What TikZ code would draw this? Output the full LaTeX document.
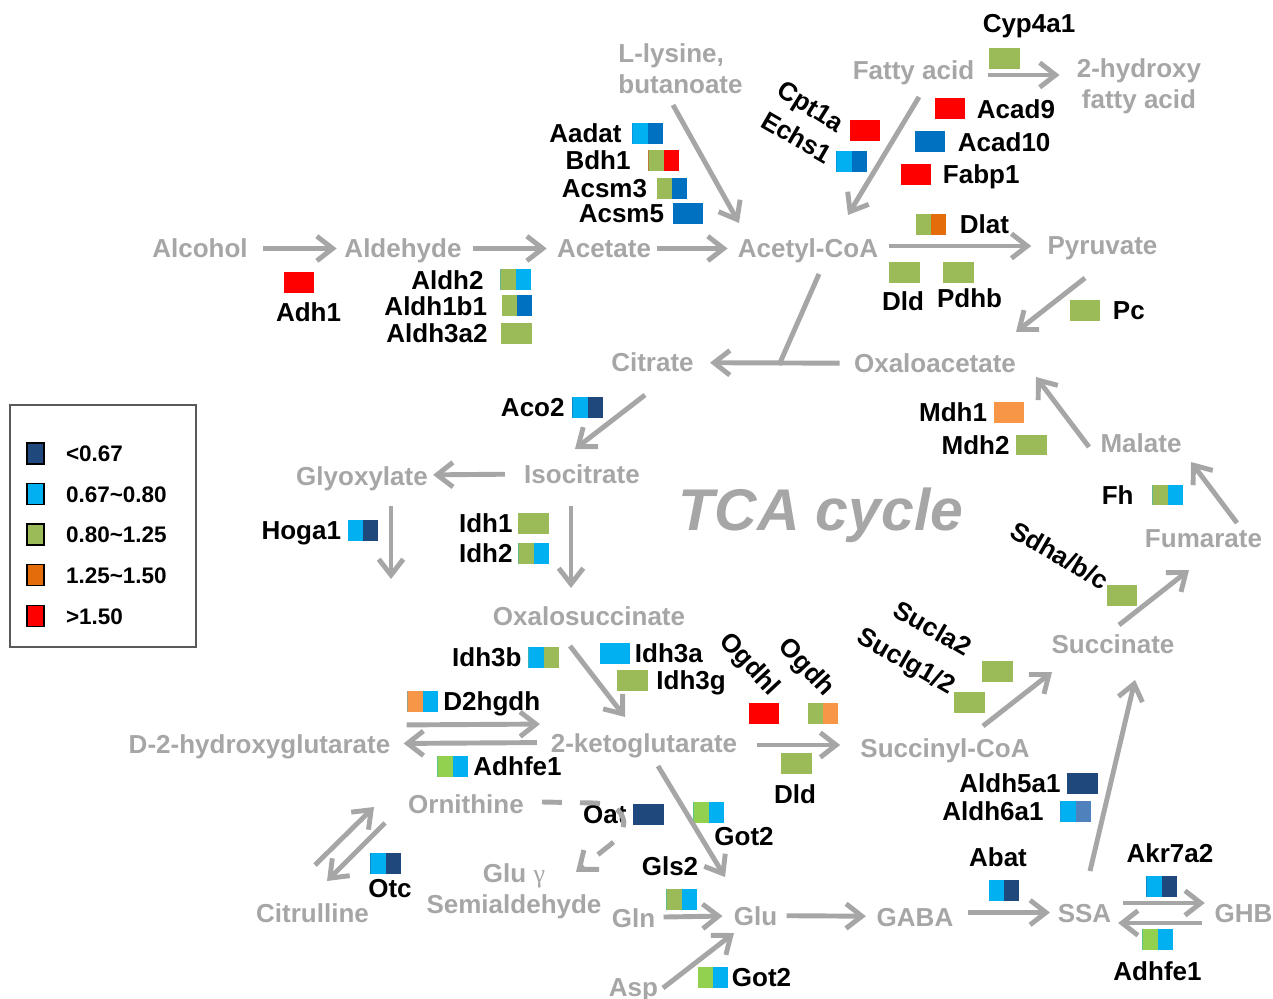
\documentclass[tikz,border=0pt]{standalone}
\usepackage{fontspec}
\setmainfont{Liberation Sans}
\newfontfamily\greekserif{Liberation Serif}
\usetikzlibrary{positioning,arrows.meta}

\definecolor{cgray}{HTML}{A6A6A6}
\definecolor{cnavy}{HTML}{1F497D}
\definecolor{clblue}{HTML}{00B0F0}
\definecolor{cmblue}{HTML}{0070C0}
\definecolor{csteel}{HTML}{4F81BD}
\definecolor{cgreen}{HTML}{9BBB59}
\definecolor{cbgreen}{HTML}{92D050}
\definecolor{corange}{HTML}{E46C0A}
\definecolor{clorange}{HTML}{F79646}
\definecolor{cred}{HTML}{FF0000}

\begin{document}
\begin{tikzpicture}[x = 0.02cm, y = -0.02cm,
    met/.style = { font = \bfseries\fontsize{14.8}{17.6}\selectfont, text = cgray, inner sep = 0pt, text height = 10.8pt, text depth = 0pt, anchor = base },
    met2/.style = { font = \bfseries\fontsize{14.8}{17.6}\selectfont, text = cgray, inner sep = 0pt },
    gene/.style = { font = \bfseries\fontsize{14.8}{17.6}\selectfont, inner sep = 0pt, text height = 10.8pt, text depth = 0pt },
    cell/.style 2 args = { minimum width = 0.61cm, minimum height = 0.42cm, inner sep = 0pt, fill = #2,
      path picture = { \fill[#1] (path picture bounding box.south west) rectangle (path picture bounding box.north); } },
    flow/.style = { draw = cgray, line width = 2.8pt, -{Straight Barb[length = 9pt, width = 14pt]} },
    key/.style = { draw = black, line width = 0.8pt, minimum width = 0.34cm, minimum height = 0.42cm, inner sep = 0pt, fill = #1 },
    keytext/.style = { font = \bfseries\fontsize{12.8}{15}\selectfont, inner sep = 0pt, text height = 9.3pt, text depth = 0pt }]

    \useasboundingbox (0,0) rectangle (1273,999);

    % metabolites
    \node[met] (alcohol) at (200,258) {Alcohol};
    \node[met] (aldehyde) at (403,258) {Aldehyde};
    \node[met] (acetate) at (604,258) {Acetate};
    \node[met] (acetylcoa) at (808,258) {Acetyl-CoA};
    \node[met2, align = left, anchor = north west] (lysine) at (618,43.3) {L-lysine,\\butanoate};
    \node[met] (fattyacid) at (913.5,80) {Fatty acid};
    \node[met2, align = center, anchor = north] (hydroxyfa) at (1139,58.3) {2-hydroxy\\fatty acid};
    \node[met] (pyruvate) at (1102.5,255) {Pyruvate};
    \node[met] (citrate) at (652.5,372) {Citrate};
    \node[met] (oxaloacetate) at (935,373) {Oxaloacetate};
    \node[met] (isocitrate) at (582,483) {Isocitrate};
    \node[met] (glyoxylate) at (362,485) {Glyoxylate};
    \node[met] (malate) at (1141,453) {Malate};
    \node[met] (fumarate) at (1203.5,547) {Fumarate};
    \node[met] (oxalosuccinate) at (589,625) {Oxalosuccinate};
    \node[met] (succinate) at (1113,653) {Succinate};
    \node[met] (dhg) at (259.5,753) {D-2-hydroxyglutarate};
    \node[met] (ketoglutarate) at (644,752) {2-ketoglutarate};
    \node[met] (succinylcoa) at (945,757) {Succinyl-CoA};
    \node[met] (ornithine) at (466,813) {Ornithine};
    \node[met] (citrulline) at (312.5,922) {Citrulline};
    \node[met2, align = center, anchor = north] (semialdehyde) at (514,863.3) {Glu {\greekserif\mdseries γ}\\Semialdehyde};
    \node[met] (gln) at (633.5,927) {Gln};
    \node[met] (glu) at (755.5,925) {Glu};
    \node[met] (gaba) at (915,926) {GABA};
    \node[met] (ssa) at (1084.5,922) {SSA};
    \node[met] (ghb) at (1243.5,922) {GHB};
    \node[met] (asp) at (633.5,996) {Asp};
    \node[font = \bfseries\itshape\fontsize{33.5}{36}\selectfont, text = cgray, inner sep = 0pt, anchor = base] (tca) at (821,530) {TCA cycle};

    % genes around acetate
    \node[cell = {cred}{cred}] (adh1) at (299,282.5) {};
    \node[gene, anchor = base] (adh1-l) at (308.5,322) {Adh1};
    \node[cell = {cgreen}{clblue}] (aldh2) at (515.5,280) {};
    \node[gene, left = 3.2mm of aldh2] (aldh2-l) {Aldh2};
    \node[cell = {cgreen}{cmblue}] (aldh1b1) at (517,306) {};
    \node[gene, left = 2.8mm of aldh1b1] (aldh1b1-l) {Aldh1b1};
    \node[cell = {cgreen}{cgreen}] (aldh3a2) at (516.5,333.5) {};
    \node[gene, left = 2.6mm of aldh3a2] (aldh3a2-l) {Aldh3a2};
    \node[cell = {clblue}{cmblue}] (aadat) at (647.5,133.5) {};
    \node[gene, left = 2mm of aadat] (aadat-l) {Aadat};
    \node[cell = {cgreen}{cred}] (bdh1) at (663.5,160.5) {};
    \node[gene, left = 3.4mm of bdh1] (bdh1-l) {Bdh1};
    \node[cell = {cgreen}{cmblue}] (acsm3) at (672,188.5) {};
    \node[gene, left = 1.8mm of acsm3] (acsm3-l) {Acsm3};
    \node[cell = {cmblue}{cmblue}] (acsm5) at (688,213.5) {};
    \node[gene, left = 1.6mm of acsm5] (acsm5-l) {Acsm5};

    % fatty acid and pyruvate
    \node[cell = {cred}{cred}] (cpt1a) at (865,130.5) {};
    \node[gene, rotate = -32] (cpt1a-l) at (811,106) {Cpt1a};
    \node[cell = {clblue}{cmblue}] (echs1) at (851.5,161.5) {};
    \node[gene, rotate = -30] (echs1-l) at (797,137) {Echs1};
    \node[cell = {cgreen}{cgreen}] (cyp4a1) at (1004.5,58.5) {};
    \node[gene, anchor = base] (cyp4a1-l) at (1029,33) {Cyp4a1};
    \node[cell = {cred}{cred}] (acad9) at (950,109) {};
    \node[gene, right = 2.2mm of acad9] (acad9-l) {Acad9};
    \node[cell = {cmblue}{cmblue}] (acad10) at (930,142) {};
    \node[gene, right = 2.4mm of acad10] (acad10-l) {Acad10};
    \node[cell = {cred}{cred}] (fabp1) at (916,174.5) {};
    \node[gene, right = 2.2mm of fabp1] (fabp1-l) {Fabp1};
    \node[cell = {cgreen}{corange}] (dlat) at (931,224.5) {};
    \node[gene, right = 2.6mm of dlat] (dlat-l) {Dlat};
    \node[cell = {cgreen}{cgreen}] (dld1) at (904.5,272.5) {};
    \node[gene, anchor = base] (dld1-l) at (903,311) {Dld};
    \node[cell = {cgreen}{cgreen}] (pdhb) at (958.5,272.5) {};
    \node[gene, anchor = base] (pdhb-l) at (969.5,308) {Pdhb};
    \node[cell = {cgreen}{cgreen}] (pc) at (1085,310.5) {};
    \node[gene, right = 2.4mm of pc] (pc-l) {Pc};

    % TCA cycle genes
    \node[cell = {clblue}{cnavy}] (aco2) at (587.5,407.5) {};
    \node[gene, left = 1.4mm of aco2] (aco2-l) {Aco2};
    \node[cell = {clorange}{clorange}] (mdh1) at (1009,412.5) {};
    \node[gene, left = 1.2mm of mdh1] (mdh1-l) {Mdh1};
    \node[cell = {cgreen}{cgreen}] (mdh2) at (1031.5,445) {};
    \node[gene, left = 1.2mm of mdh2] (mdh2-l) {Mdh2};
    \node[cell = {clblue}{cnavy}] (hoga1) at (363,530.5) {};
    \node[gene, left = 1.2mm of hoga1] (hoga1-l) {Hoga1};
    \node[cell = {cgreen}{cgreen}] (idh1) at (533.5,523.5) {};
    \node[gene, left = 1mm of idh1] (idh1-l) {Idh1};
    \node[cell = {cgreen}{clblue}] (idh2) at (533.5,553.5) {};
    \node[gene, left = 1mm of idh2] (idh2-l) {Idh2};
    \node[cell = {cgreen}{clblue}] (fh) at (1167.5,495) {};
    \node[gene, left = 3.6mm of fh] (fh-l) {Fh};
    \node[cell = {cgreen}{cgreen}] (sdh) at (1122,595.5) {};
    \node[gene, rotate = -30] (sdh-l) at (1060,555) {Sdha/b/c};
    \node[cell = {clblue}{cgreen}] (idh3b) at (543.5,657.5) {};
    \node[gene, left = 1.2mm of idh3b] (idh3b-l) {Idh3b};
    \node[cell = {clblue}{clblue}] (idh3a) at (615,653.5) {};
    \node[gene, right = 0.8mm of idh3a] (idh3a-l) {Idh3a};
    \node[cell = {cgreen}{cgreen}] (idh3g) at (632.5,680) {};
    \node[gene, right = 1.6mm of idh3g] (idh3g-l) {Idh3g};
    \node[cell = {clorange}{clblue}] (d2hgdh) at (422.5,701.5) {};
    \node[gene, right = 1mm of d2hgdh] (d2hgdh-l) {D2hgdh};
    \node[cell = {cbgreen}{clblue}] (adhfe1a) at (452.5,766) {};
    \node[gene, right = 1mm of adhfe1a] (adhfe1a-l) {Adhfe1};
    \node[cell = {cred}{cred}] (ogdhl) at (764,713.5) {};
    \node[gene, rotate = -47] (ogdhl-l) at (751,663) {Ogdhl};
    \node[cell = {cgreen}{clorange}] (ogdh) at (823,713.5) {};
    \node[gene, rotate = -47] (ogdh-l) at (808,666) {Ogdh};
    \node[cell = {cgreen}{cgreen}] (sucla2) at (997.5,671.5) {};
    \node[gene, rotate = -30] (sucla2-l) at (933,628) {Sucla2};
    \node[cell = {cgreen}{cgreen}] (suclg) at (969.5,702.5) {};
    \node[gene, rotate = -30] (suclg-l) at (907,660) {Suclg1/2};
    \node[cell = {cgreen}{cgreen}] (dld2) at (796.5,763.5) {};
    \node[gene, anchor = base] (dld2-l) at (795,803) {Dld};

    % glutamate and GABA genes
    \node[cell = {cnavy}{cnavy}] (oat) at (648.5,814.5) {};
    \node[gene, left = 1.2mm of oat] (oat-l) {Oat};
    \node[cell = {cbgreen}{clblue}] (got2a) at (708.5,812) {};
    \node[gene, anchor = base] (got2a-l) at (744,845) {Got2};
    \node[cell = {clblue}{cnavy}] (otc) at (385.5,863.5) {};
    \node[gene, anchor = base] (otc-l) at (390,897) {Otc};
    \node[cell = {cgreen}{clblue}] (gls2) at (681.5,899.5) {};
    \node[gene, anchor = base] (gls2-l) at (670,875) {Gls2};
    \node[cell = {cbgreen}{clblue}] (got2b) at (713,977.5) {};
    \node[gene, right = 0.6mm of got2b] (got2b-l) {Got2};
    \node[cell = {cnavy}{cnavy}] (aldh5a1) at (1082.5,783) {};
    \node[gene, left = 1.2mm of aldh5a1] (aldh5a1-l) {Aldh5a1};
    \node[cell = {clblue}{csteel}] (aldh6a1) at (1075.5,811.5) {};
    \node[gene, left = 3.2mm of aldh6a1] (aldh6a1-l) {Aldh6a1};
    \node[cell = {clblue}{cnavy}] (abat) at (1004,890.5) {};
    \node[gene, anchor = base] (abat-l) at (998,866) {Abat};
    \node[cell = {clblue}{cnavy}] (akr7a2) at (1161.5,886.5) {};
    \node[gene, anchor = base] (akr7a2-l) at (1170,862) {Akr7a2};
    \node[cell = {cbgreen}{clblue}] (adhfe1b) at (1157.5,939.5) {};
    \node[gene, anchor = base] (adhfe1b-l) at (1157.5,980) {Adhfe1};

    % legend
    \node[draw = black!65, line width = 0.8pt, minimum width = 3.72cm, minimum height = 4.84cm, inner sep = 0pt] (legend) at (103,526) {};
    \node[key = cnavy] (k1) at (35.5,453.5) {};
    \node[keytext, right = 4.2mm of k1] (k1-l) {<0.67};
    \node[key = clblue] (k2) at (35.5,494) {};
    \node[keytext, right = 4.2mm of k2] (k2-l) {0.67\textasciitilde0.80};
    \node[key = cgreen] (k3) at (35.5,534.5) {};
    \node[keytext, right = 4.2mm of k3] (k3-l) {0.80\textasciitilde1.25};
    \node[key = corange] (k4) at (35.5,575) {};
    \node[keytext, right = 4.2mm of k4] (k4-l) {1.25\textasciitilde1.50};
    \node[key = cred] (k5) at (35.5,616) {};
    \node[keytext, right = 4.2mm of k5] (k5-l) {>1.50};

    % free ends of the slanted arrows
    \coordinate (lys1) at (673,105);  \coordinate (lys2) at (739,223);
    \coordinate (fa1) at (919,97);    \coordinate (fa2) at (848,215);
    \coordinate (pyr1) at (1085,278); \coordinate (pyr2) at (1016,332);
    \coordinate (acoa1) at (819,274); \coordinate (acoa2) at (779,365);
    \coordinate (cit1) at (645,395);  \coordinate (cit2) at (575,449);
    \coordinate (gly1) at (391,506);  \coordinate (gly2) at (391,579);
    \coordinate (iso1) at (571,506);  \coordinate (iso2) at (571,588);
    \coordinate (mal1) at (1089,447); \coordinate (mal2) at (1036,377);
    \coordinate (fum1) at (1237,523); \coordinate (fum2) at (1191,462);
    \coordinate (suc1) at (1119,625); \coordinate (suc2) at (1189,570);
    \coordinate (oxs1) at (570,646);  \coordinate (oxs2) at (625,717);
    \coordinate (sco1) at (983,726);  \coordinate (sco2) at (1052,672);
    \coordinate (akg1) at (658,766);  \coordinate (akg2) at (725,877);
    \coordinate (asp1) at (663,988);  \coordinate (asp2) at (734,933);
    \coordinate (ssa1) at (1090,871); \coordinate (ssa2) at (1135,680);
    \coordinate (orn1) at (385,823);  \coordinate (orn2) at (327,881);
    \coordinate (cit3) at (315,865);  \coordinate (cit4) at (374,807);
    \coordinate (oat1) at (542,802);  \coordinate (oat2) at (576,872);

    % arrows
    \draw[flow, shorten <= 0.3cm, shorten >= 0.15cm] (alcohol) -- (aldehyde);
    \draw[flow, shorten <= 0.22cm, shorten >= 0.2cm] (aldehyde) -- (acetate);
    \draw[flow, shorten <= 0.12cm, shorten >= 0.2cm] (acetate) -- (acetylcoa);
    \draw[flow, shorten <= 0.22cm, shorten >= 0.32cm] ([yshift = 0.05cm]acetylcoa.east) -- ([yshift = 0.05cm]acetylcoa.east -| pyruvate.west);
    \draw[flow, shorten <= 0.26cm, shorten >= 0.34cm] ([yshift = -0.09cm]fattyacid.east) -- ([yshift = -0.09cm]fattyacid.east -| hydroxyfa.west);
    \draw[flow, shorten <= 0.28cm, shorten >= 0.32cm] (oxaloacetate) -- (citrate);
    \draw[flow, shorten <= 0.38cm, shorten >= 0.1cm] (isocitrate) -- (glyoxylate);
    \draw[flow, shorten <= 0.39cm, shorten >= 0.4cm] ([yshift = -0.05cm]ketoglutarate.east) -- ([yshift = -0.05cm]ketoglutarate.east -| succinylcoa.west);
    \draw[flow, shorten <= 0.16cm, shorten >= 0.22cm] (gln) -- (glu);
    \draw[flow, shorten <= 0.18cm, shorten >= 0.21cm] (glu) -- (gaba);
    \draw[flow, shorten <= 0.29cm, shorten >= 0.15cm] (ssa -| gaba.east) -- (ssa.west);
    \draw[flow, shorten <= 0.23cm, shorten >= 0.19cm] ([yshift = 0.19cm]ssa.east) -- ([yshift = 0.19cm]ghb.west);
    \draw[flow, shorten <= 0.25cm, shorten >= 0.13cm] ([yshift = -0.21cm]ghb.west) -- ([yshift = -0.21cm]ssa.east);
    \draw[flow, shorten <= 0.32cm, shorten >= 0.21cm] ([yshift = 0.37cm]dhg.east) -- ([yshift = 0.37cm]ketoglutarate.west);
    \draw[flow, shorten <= 0.27cm, shorten >= 0.26cm] (ketoglutarate.west) -- (dhg.east);
    \draw[flow] (lys1) -- (lys2);
    \draw[flow] (fa1) -- (fa2);
    \draw[flow] (pyr1) -- (pyr2);
    \draw[draw = cgray, line width = 2.8pt] (acoa1) -- (acoa2);
    \draw[flow] (cit1) -- (cit2);
    \draw[flow] (gly1) -- (gly2);
    \draw[flow] (iso1) -- (iso2);
    \draw[flow] (mal1) -- (mal2);
    \draw[flow] (fum1) -- (fum2);
    \draw[flow] (suc1) -- (suc2);
    \draw[flow] (oxs1) -- (oxs2);
    \draw[flow] (sco1) -- (sco2);
    \draw[flow] (akg1) -- (akg2);
    \draw[flow] (asp1) -- (asp2);
    \draw[flow] (ssa1) -- (ssa2);
    \draw[flow] (orn1) -- (orn2);
    \draw[flow] (cit3) -- (cit4);
    \draw[flow, dash pattern = on 0.4cm off 0.36cm] (oat1) -- (595,803) .. controls (628,805) and (632,828) .. (610,845) -- (oat2);

\end{tikzpicture}
\end{document}
